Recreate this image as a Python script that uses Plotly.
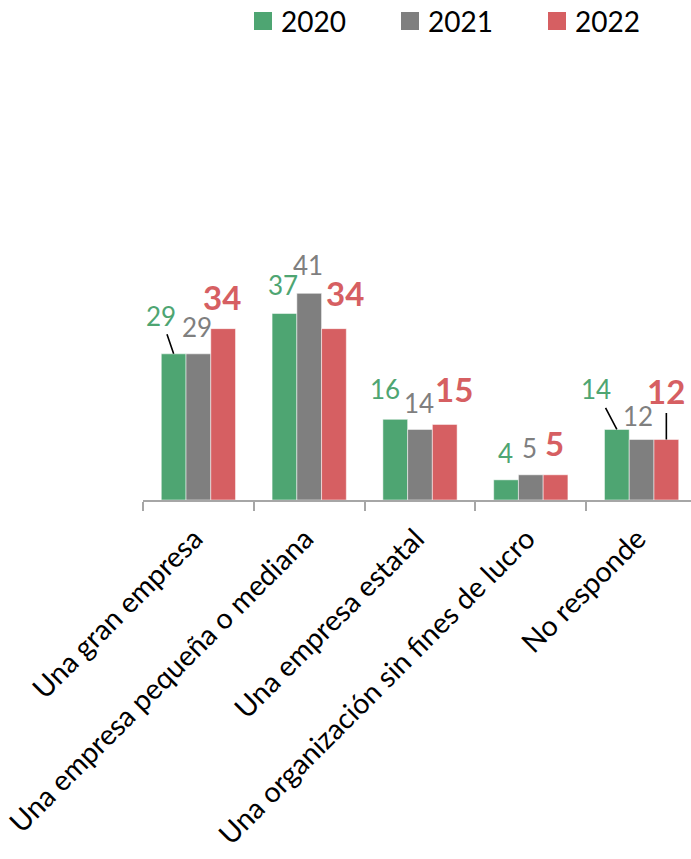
import plotly.graph_objects as go

# ---------------- data ----------------
categories = [
    "Una gran empresa",
    "Una empresa pequeña o mediana",
    "Una empresa estatal",
    "Una organización sin fines de lucro",
    "No responde",
]
years = ["2020", "2021", "2022"]
v2020 = [29, 37, 16, 4, 14]
v2021 = [29, 41, 14, 5, 12]
v2022 = [34, 34, 15, 5, 12]
series = [v2020, v2021, v2022]

# ---------------- style ----------------
colors = ["#4EA572", "#7F7F7F", "#D65F62"]
FONT = "Lato"
FIG_W, FIG_H = 691, 859
L, T, B = 143, 100, 359
CAT_PX = 110.8
PX_PER_UNIT = 5.04
plot_w = FIG_W - L
plot_h = FIG_H - T - B
x_max = -0.5 + plot_w / CAT_PX
y_max = plot_h / PX_PER_UNIT
BARGAP = 0.33
bar_w = (1 - BARGAP) / 3

# label offsets (px) of label centre relative to bar-top centre; arrow flag
label_offsets = [
    [(-13, 38, True), (-1, 28.5, False), (-10, 30, False), (-1, 26.5, False), (-21, 40, True)],
    [(-1, 27, False), (-1, 28.4, False), (-1, 26, False), (-1, 26.5, False), (-4, 24, False)],
    [(-1, 32, False), (11, 36, False), (9, 35, False), (-1, 31.5, False), (0, 49, True)],
]
label_fonts = [
    dict(family=FONT, size=26, color=colors[0]),
    dict(family=FONT, size=26, color=colors[1]),
    dict(family=FONT, size=33, color=colors[2], weight="bold"),
]

fig = go.Figure()
for yr, vals, col in zip(years, series, colors):
    fig.add_trace(go.Bar(
        x=categories, y=vals, name=yr,
        marker=dict(color=col, line=dict(color="rgba(255,255,255,0.5)", width=1)),
        showlegend=False,
    ))

annotations = []
for j, vals in enumerate(series):
    for i, v in enumerate(vals):
        dx, dy, arrow = label_offsets[j][i]
        xpos = i + (j - 1) * bar_w
        if arrow:
            annotations.append(dict(
                x=xpos, y=v, xref="x", yref="y", text=str(v),
                showarrow=True, arrowhead=0, arrowwidth=1.6, arrowcolor="black",
                ax=dx, ay=-dy, axref="pixel", ayref="pixel",
                borderpad=2, font=label_fonts[j],
            ))
        else:
            annotations.append(dict(
                x=xpos, y=v, xref="x", yref="y", text=str(v),
                showarrow=False, xanchor="center", yanchor="middle",
                xshift=dx, yshift=dy, font=label_fonts[j],
            ))

# manual legend
shapes = []
leg_x = [254, 401, 548]
for yr, col, lx in zip(years, colors, leg_x):
    x0 = (lx - L) / plot_w
    x1 = (lx + 18 - L) / plot_w
    y0 = (FIG_H - B - 30) / plot_h
    y1 = (FIG_H - B - 12) / plot_h
    shapes.append(dict(type="rect", xref="paper", yref="paper",
                       x0=x0, x1=x1, y0=y0, y1=y1,
                       fillcolor=col, line=dict(width=0)))
    annotations.append(dict(
        x=(lx + 25 - L) / plot_w, y=(FIG_H - B - 21) / plot_h,
        xref="paper", yref="paper", text=yr, showarrow=False,
        xanchor="left", yanchor="middle",
        font=dict(family=FONT, size=28, color="black"),
    ))

fig.update_layout(
    width=FIG_W, height=FIG_H,
    margin=dict(l=L, r=0, t=T, b=B, pad=0, autoexpand=False),
    paper_bgcolor="white", plot_bgcolor="white",
    barmode="group", bargap=BARGAP, bargroupgap=0,
    font=dict(family=FONT, color="black"),
    annotations=annotations, shapes=shapes,
    showlegend=False,
)
fig.update_xaxes(
    type="category", range=[-0.5, x_max], automargin=False,
    showline=True, linecolor="#A6A6A6", linewidth=1.5,
    ticks="outside", tickson="boundaries", ticklen=9, tickcolor="#A6A6A6", tickwidth=1.5,
    tickangle=-45, tickfont=dict(family=FONT, size=28.5, color="black"),
    ticklabelstandoff=9, ticklabelshift=-4,
    showgrid=False, zeroline=False,
)
fig.update_yaxes(
    range=[0, y_max], visible=False, showgrid=False, zeroline=False, automargin=False,
)

fig.write_html("out.html")
